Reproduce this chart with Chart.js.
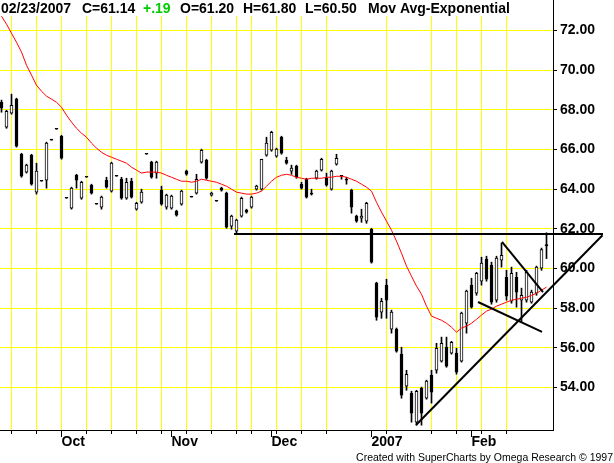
<!DOCTYPE html>
<html><head><meta charset="utf-8">
<script src="https://cdn.jsdelivr.net/npm/chart.js@4.4.1/dist/chart.umd.min.js"></script>
<style>html,body{margin:0;padding:0;background:#fff;overflow:hidden}canvas{display:block}</style>
</head><body>
<canvas id="c" width="614" height="463"></canvas>
<script>
// ---- data (bar index 0 = 14 Sep 2006 ... 109 = 23 Feb 2007) ----
const opens = [68.38,67.12,67.83,68.54,65.76,64.86,65.71,63.85,64.40,64.45,
66.47,67.02,66.67,63.54,63.04,64.70,63.54,64.60,64.20,63.24,
63.09,64.45,63.90,64.65,64.50,63.54,64.40,62.99,63.34,65.76,
65.36,64.81,63.95,63.09,63.04,62.89,63.24,64.91,63.60,63.80,
65.36,65.46,63.70,63.39,64.05,63.80,62.13,61.88,62.64,62.94,
63.09,64.00,64.00,65.71,65.96,65.66,66.62,65.46,64.91,65.16,
64.25,64.50,63.80,64.55,64.96,64.55,64.00,65.26,64.65,64.45,
63.95,62.64,62.54,62.39,61.98,59.26,57.80,59.16,56.94,56.94,
55.68,54.07,53.71,52.25,53.97,53.46,54.62,54.87,55.33,56.03,
55.73,55.73,55.33,57.24,59.16,58.75,59.36,60.47,60.17,58.40,
60.42,59.56,58.35,59.56,58.40,58.40,58.30,58.75,60.02,61.20];
const highs = [68.49,67.98,68.79,68.59,65.81,65.26,65.76,65.31,64.40,66.37,
66.47,67.02,66.72,63.54,64.10,64.75,64.40,64.60,64.25,63.24,
63.65,64.60,65.36,64.65,64.60,64.55,64.55,63.34,64.00,65.76,
65.41,65.41,64.15,63.75,63.70,62.94,63.95,64.96,63.60,64.75,
66.02,65.51,63.85,63.39,64.10,63.85,62.69,62.49,63.60,62.99,
63.65,64.20,65.51,66.62,66.92,66.07,66.67,65.61,65.21,65.21,
64.35,64.55,64.00,64.96,65.56,64.81,64.96,65.76,64.65,64.60,
64.00,62.69,62.99,63.34,62.03,59.31,58.50,59.46,57.90,57.00,
56.03,54.87,53.81,53.86,54.02,54.37,54.87,56.23,56.54,56.54,
56.33,55.98,57.80,58.91,59.51,59.81,60.57,60.62,60.32,60.62,
61.28,59.91,60.07,59.81,59.01,59.91,58.91,60.12,61.03,61.80];
const lows = [67.88,67.07,67.78,66.12,64.60,64.81,64.20,63.75,64.40,64.05,
66.47,67.02,65.51,63.54,62.99,64.05,63.49,64.60,63.75,63.24,
62.99,64.05,63.85,64.65,63.49,63.49,63.55,62.94,63.29,65.76,
64.55,64.55,63.19,62.99,62.99,62.64,63.19,64.70,63.60,63.75,
65.31,64.50,63.65,63.39,63.90,62.03,61.98,61.78,62.59,62.79,
63.04,63.95,63.95,65.66,65.91,65.61,65.76,65.26,64.75,64.55,
64.00,63.55,63.70,64.50,64.91,64.15,63.95,65.21,64.50,64.25,
62.79,62.33,62.33,62.28,60.27,57.39,57.49,57.49,56.74,55.78,
53.46,53.86,52.25,52.10,52.10,53.41,53.21,54.72,55.28,55.02,
55.68,54.67,55.28,56.74,58.00,58.65,59.16,59.36,58.20,58.30,
60.07,58.40,58.25,58.05,57.29,58.30,58.25,58.65,59.91,60.50];
const closes = [68.08,67.93,68.23,66.17,64.65,65.21,64.25,64.91,64.40,66.32,
66.47,67.02,65.56,63.54,64.05,64.45,64.35,64.60,63.80,63.24,
63.60,64.10,65.31,64.65,63.54,64.35,63.60,63.29,63.85,65.76,
64.60,65.36,63.24,63.70,63.65,62.69,63.90,64.75,63.60,64.50,
65.96,64.55,63.80,63.39,63.95,62.08,62.64,62.44,63.54,62.84,
63.60,64.15,65.51,66.32,66.87,66.02,65.81,65.31,65.06,64.60,
64.05,63.60,63.75,64.91,65.51,64.20,64.91,65.56,64.65,64.45,
63.09,62.39,62.64,63.29,60.32,57.54,58.35,58.40,57.80,55.83,
53.61,54.67,52.70,53.81,52.70,54.32,53.76,55.98,56.23,55.07,
56.28,54.77,57.75,58.86,58.05,59.76,60.27,59.46,58.30,60.52,
60.67,58.60,59.76,58.81,58.65,59.81,58.81,60.07,60.95,61.14];
const movAvgExp = [72.72,72.32,71.86,71.41,70.91,70.25,69.75,69.24,68.94,68.69,
68.54,68.38,68.13,67.73,67.38,67.07,66.82,66.62,66.32,66.07,
65.86,65.71,65.61,65.51,65.41,65.31,65.11,64.96,64.81,64.86,
64.86,64.86,64.81,64.70,64.60,64.50,64.40,64.40,64.35,64.40,
64.50,64.45,64.40,64.35,64.25,64.15,64.00,63.85,63.80,63.75,
63.75,63.80,63.90,64.15,64.40,64.60,64.70,64.75,64.70,64.60,
64.55,64.50,64.55,64.55,64.55,64.60,64.60,64.65,64.65,64.60,
64.50,64.40,64.25,64.10,63.90,63.34,62.84,62.39,61.93,61.38,
60.77,60.12,59.61,59.11,58.70,58.10,57.60,57.49,57.39,57.24,
57.04,56.79,57.00,57.09,57.24,57.44,57.65,57.85,57.95,58.10,
58.20,58.30,58.40,58.45,58.50,58.55,58.65,58.75,58.91,59.06];

const weekStartBars = [2,7,12,17,22,27,32,37,42,47,50,55,60,65,77,86,91,96,101];
const monthStartBars = [12,34,54,74,94];
const monthLabels = ['Oct','Nov','Dec','2007','Feb'];
const priceTicks = [54,56,58,60,62,64,66,68,70,72];

// hand-drawn trendlines, in (bar index, price)
const resistanceLine = [{x:46.5,y:61.74},{x:120.3,y:61.74}];
const supportLine    = [{x:82.9,y:52.11},{x:120.2,y:61.68}];
const flagUpper      = [{x:100.1,y:61.34},{x:108.3,y:58.81}];
const flagLower      = [{x:95.3,y:58.31},{x:108.1,y:56.80}];

const headerDate = '02/23/2007';
const studyName = 'Mov Avg-Exponential';
const footerText = 'Created with SuperCharts by Omega Research \u00A9 1997';

// ---- build ----
const N = closes.length;
const last = N - 1;
const chg = closes[last] - closes[last-1];
const chgText = (chg >= 0 ? '+' : '-') + Math.abs(chg).toFixed(2).replace(/^0/, '');
const headerPieces = [
  {t: headerDate, x: 1, c: '#000'},
  {t: 'C=' + closes[last].toFixed(2), x: 82, c: '#000'},
  {t: chgText, x: 143, c: '#00cc00'},
  {t: 'O=' + opens[last].toFixed(2), x: 180, c: '#000'},
  {t: 'H=' + highs[last].toFixed(2), x: 243, c: '#000'},
  {t: 'L=' + lows[last].toFixed(2), x: 305, c: '#000'},
  {t: studyName, x: 368, c: '#000'}
];

const FONT = '"Liberation Sans", Arial, Helvetica, sans-serif';
const bodyColors = closes.map((c,i) => c > opens[i] ? '#ffffff' : '#000000');
const allXTicks = Array.from(new Set(weekStartBars.concat(monthStartBars))).sort((a,b)=>a-b);

const decor = {
  id: 'decor',
  afterDraw(chart) {
    const ctx = chart.ctx, xs = chart.scales.x, a = chart.chartArea;
    ctx.save();
    ctx.strokeStyle = '#000'; ctx.lineWidth = 1;
    ctx.beginPath();
    // right axis line extends to the top of the picture
    ctx.moveTo(a.right + 0.5, 0); ctx.lineTo(a.right + 0.5, a.top);
    weekStartBars.forEach(b => {
      const px = Math.floor(xs.getPixelForValue(b)) + 0.5;
      ctx.moveTo(px, a.bottom); ctx.lineTo(px, a.bottom + 4);
    });
    monthStartBars.forEach(b => {
      const px = Math.floor(xs.getPixelForValue(b)) + 0.5;
      ctx.moveTo(px, a.bottom); ctx.lineTo(px, a.bottom + 7);
    });
    ctx.stroke();
    ctx.font = 'bold 14px ' + FONT;
    ctx.textBaseline = 'alphabetic'; ctx.textAlign = 'left';
    headerPieces.forEach(p => { ctx.fillStyle = p.c; ctx.fillText(p.t, p.x, 13); });
    ctx.font = '10.5px ' + FONT;
    ctx.fillStyle = '#000'; ctx.textAlign = 'right';
    ctx.fillText(footerText, 613, 461);
    ctx.restore();
  }
};

const trend = (data) => ({
  type: 'line', data, borderColor: '#000', borderWidth: 2, pointRadius: 0,
  fill: false, clip: false, order: 0, tension: 0
});

new Chart(document.getElementById('c'), {
  type: 'bar',
  data: {
    datasets: [
      trend(resistanceLine), trend(supportLine), trend(flagUpper), trend(flagLower),
      {
        type: 'line', data: movAvgExp.map((v,i)=>({x:i, y:v})),
        borderColor: '#ff0000', borderWidth: 1, pointRadius: 0, fill: false, tension: 0, order: 1
      },
      {
        type: 'bar', data: opens.map((o,i)=>({x:i, y:[o, closes[i]]})),
        backgroundColor: bodyColors, borderColor: '#000', borderWidth: 1, borderSkipped: false,
        barThickness: 3, maxBarThickness: 3, barPercentage: 1, categoryPercentage: 1,
        minBarLength: 1, grouped: false, order: 2
      },
      {
        type: 'bar', data: lows.map((l,i)=>({x:i, y:[l, highs[i]]})),
        backgroundColor: '#000', borderWidth: 0,
        barThickness: 1, maxBarThickness: 1, barPercentage: 1, categoryPercentage: 1,
        grouped: false, order: 3
      }
    ]
  },
  options: {
    responsive: false, animation: false, devicePixelRatio: 1,
    layout: {padding: {top: 16, left: 0, right: 0, bottom: 0}},
    plugins: {legend: {display: false}, tooltip: {enabled: false}, title: {display: false}},
    scales: {
      x: {
        type: 'linear', min: -0.3, max: 110.3, offset: false,
        afterBuildTicks: s => { s.ticks = allXTicks.map(v => ({value: v})); },
        afterFit: s => { s.height = 33; },
        grid: {
          offset: false, drawTicks: false, lineWidth: 1,
          color: c => (c.tick && weekStartBars.includes(c.tick.value)) ? '#ffff00' : 'rgba(0,0,0,0)'
        },
        border: {display: true, color: '#000', width: 1},
        ticks: {
          autoSkip: false, maxRotation: 0, minRotation: 0, align: 'start', padding: 4,
          color: '#000', font: {family: FONT, size: 14, weight: 'bold'},
          callback: v => { const k = monthStartBars.indexOf(v); return k >= 0 ? monthLabels[k] : ''; }
        }
      },
      y: {
        type: 'linear', position: 'right', min: 51.857, max: 72.731, beginAtZero: false,
        afterBuildTicks: s => { s.ticks = priceTicks.map(v => ({value: v})); },
        afterFit: s => { s.width = 61; },
        grid: {color: '#ffff00', lineWidth: 1, tickColor: '#000', tickLength: 4, drawTicks: true},
        border: {display: true, color: '#000', width: 1},
        ticks: {
          padding: 3, color: '#000', font: {family: FONT, size: 14, weight: 'bold'},
          callback: v => Number(v).toFixed(2)
        }
      }
    }
  },
  plugins: [decor]
});
</script>
</body></html>
